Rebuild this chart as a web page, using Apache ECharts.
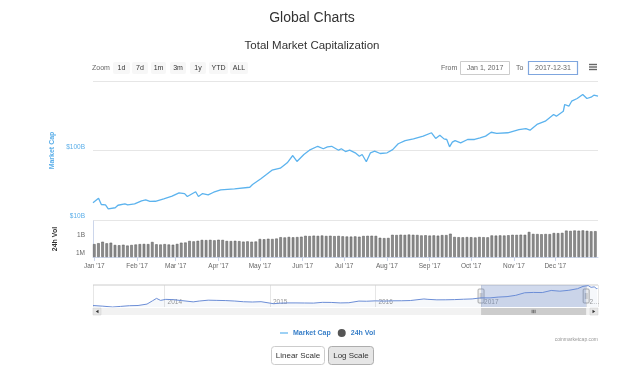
<!DOCTYPE html>
<html>
<head>
<meta charset="utf-8">
<script src="https://cdn.jsdelivr.net/npm/echarts@6/dist/echarts.min.js"></script>
<style>
html, body { margin: 0; padding: 0; background: #fff; }
#main { width: 624px; height: 378px; }
</style>
</head>
<body>
<div id="main"></div>
<script>
// total market cap in 2017, billions USD
var capDates = ['01-01','01-05','01-07','01-10','01-12','01-17','01-19','01-24','01-26','01-31',
  '02-05','02-08','02-11','02-15','02-21','02-27','03-04','03-08','03-10','03-11','03-16','03-18',
  '03-21','03-25','03-29','04-03','04-13','04-24','04-26','05-02','05-06','05-10','05-16','05-21',
  '05-25','05-28','06-02','06-06','06-12','06-16','06-19','06-22','06-27','06-29','07-02','07-05',
  '07-09','07-12','07-14','07-17','07-20','07-23','07-27','08-01','08-05','08-09','08-14','08-20',
  '08-27','09-02','09-05','09-08','09-11','09-13','09-15','09-17','09-19','09-23','09-28','10-03',
  '10-07','10-11','10-15','10-19','10-27','11-04','11-09','11-12','11-17','11-23','11-29','12-01',
  '12-06','12-07','12-10','12-12','12-16','12-20','12-21','12-23','12-26','12-28','12-31'];
var capValues = [17.7,20.6,16.7,16.5,14.5,15.0,16.3,17.1,16.5,17.1,
  18.9,19.5,18.5,18.6,20.2,22.0,24.6,24.0,21.8,23.0,25.5,21.8,
  24.0,23.0,25.1,27.2,28.1,29.6,32.4,39.2,45.1,52.1,55.6,66.5,
  84.7,69.5,87.6,101,115,106,113,115,101,106,96.7,101,
  92.7,82.8,87.6,68.8,92.7,97.7,90.5,92.7,103,125,139,147,
  161,180,149,166,147,144,113,132,139,129,144,144,
  152,161,183,176,180,200,207,196,237,264,330,312,
  367,459,434,512,560,640,640,560,585,625,604];

// 24h volume, billions USD, one bar every 3 days from Jan 1
var volStep = 3;
var volValues = [0.14,0.2,0.35,0.19,0.24,0.1,0.09,0.11,0.08,0.1,0.12,0.14,0.15,0.14,0.32,
  0.13,0.12,0.14,0.12,0.11,0.15,0.24,0.26,0.47,0.4,0.5,0.7,0.65,0.72,0.6,0.75,0.7,
  0.47,0.45,0.5,0.44,0.36,0.4,0.35,0.38,1.0,0.9,1.1,1.0,1.2,2.0,1.8,2.2,1.9,2.1,2.4,
  3.4,3.1,3.6,3.3,3.8,3.2,3.5,3.0,3.3,2.8,2.6,2.5,2.7,2.4,3.2,3.4,3.5,3.3,1.6,1.4,1.5,
  5.0,4.6,5.2,4.8,5.5,5.0,4.7,3.9,4.2,3.7,4.0,3.6,4.5,4.5,7.6,2.2,2.0,1.9,2.1,2.0,1.8,
  2.2,2.0,1.9,3.9,3.7,4.0,3.8,4.2,5.0,4.8,5.2,5.0,15,7,6.7,6.2,6.8,6.5,10,9.5,10.5,
  25,22,26,24,27,23,19,20];

// navigator history, billions USD
var navDates = ['2013-04-28','2013-06-01','2013-07-05','2013-08-01','2013-09-01','2013-10-01',
  '2013-11-01','2013-11-20','2013-12-04','2013-12-18','2014-01-05','2014-02-01','2014-03-01',
  '2014-04-10','2014-05-01','2014-06-01','2014-07-01','2014-08-01','2014-09-01','2014-10-01',
  '2014-11-01','2014-12-01','2015-01-14','2015-02-01','2015-03-01','2015-04-01','2015-05-01',
  '2015-06-01','2015-07-01','2015-08-01','2015-09-01','2015-10-01','2015-11-05','2015-12-01',
  '2016-01-01','2016-02-01','2016-03-01','2016-04-01','2016-05-01','2016-06-17','2016-07-01',
  '2016-08-01','2016-09-01','2016-10-01','2016-11-01','2016-12-01','2017-01-01','2017-02-01',
  '2017-03-01','2017-04-01','2017-05-01','2017-06-01','2017-07-01','2017-08-01','2017-09-01',
  '2017-10-01','2017-11-01','2017-12-01','2017-12-20','2018-01-07','2018-01-17','2018-01-28',
  '2018-02-06','2018-02-08'];
var navValues = [1.6,1.3,1.0,1.2,1.5,1.6,2.5,7,15,8,11,10,7.5,5,6.5,8.5,8,7.5,6.5,5.2,4.8,5.3,
  2.8,3.3,3.6,3.6,3.5,3.4,4.3,4.2,3.6,3.8,6.4,6.1,6.9,6.4,7.0,7.1,7.6,12.5,11.1,9.5,9.6,10.2,
  11.5,12.6,17.7,17.5,22.5,26,39,87,97,93,180,144,190,312,640,830,480,560,300,360];

var monthLabels = ["Jan '17","Feb '17","Mar '17","Apr '17","May '17","Jun '17",
  "Jul '17","Aug '17","Sep '17","Oct '17","Nov '17","Dec '17"];
var capTickValues = [10, 100];
var capTickLabels = ['$10B', '$100B'];
var volTickValues = [0.001, 1];
var volTickLabels = ['1M', '1B'];
var navYears = [2014, 2015, 2016, 2017, 2018];
var navYearLabels = ['2014', '2015', '2016', '2017', '2\u2026'];
var zoomButtons = ['1d', '7d', '1m', '3m', '1y', 'YTD', 'ALL'];

var FONT = '"Liberation Sans", Arial, sans-serif';
var DAY = 86400000;
var VOL_MIN = 0.001;

function day(s) {
  var p = s.split('-');
  return new Date(+p[0], +p[1] - 1, +p[2]).getTime();
}
function logLabel(values, labels) {
  return function (v) {
    for (var i = 0; i < values.length; i++) {
      if (Math.abs(Math.log10(v) - Math.log10(values[i])) < 1e-6) return labels[i];
    }
    return '';
  };
}

var T0 = day('2017-01-01');
var T1 = day('2017-12-31');

var capData = capDates.map(function (d, i) { return [day('2017-' + d), capValues[i]]; });
var volData = volValues.map(function (v, i) { return [new Date(2017, 0, 1 + i * volStep).getTime(), v]; });
// invisible floor so the log-axis bars grow up from the bottom of the pane
var volFloor = volData.map(function (d) { return [d[0], VOL_MIN]; });
var navData = navDates.map(function (d, i) { return [day(d), navValues[i]]; });

var chart = echarts.init(document.getElementById('main'));

chart.setOption({
  animation: false,
  backgroundColor: '#fff',
  title: [
    { text: 'Global Charts', left: 'center', top: 6,
      textStyle: { fontSize: 14, fontWeight: 'normal', color: '#333', fontFamily: FONT } },
    { text: 'Total Market Capitalization', left: 'center', top: 35,
      textStyle: { fontSize: 11.5, fontWeight: 'normal', color: '#333', fontFamily: FONT } }
  ],
  legend: {
    left: 275, top: 324, itemWidth: 8, itemHeight: 6, itemGap: 7, selectedMode: false,
    data: [
      { name: 'Market Cap', icon: 'path://M0,0H20V3H0Z', itemStyle: { color: '#5cb3ee' } },
      { name: '24h Vol', icon: 'circle', itemStyle: { color: '#555' } }
    ],
    textStyle: { color: '#3a80c9', fontWeight: 'bold', fontSize: 7, fontFamily: FONT }
  },
  grid: [
    { left: 93, right: 26, top: 81, height: 139 },
    { left: 93, right: 26, top: 221, height: 36 },
    { left: 93, right: 26, top: 285, height: 22 }
  ],
  xAxis: [
    { type: 'time', gridIndex: 0, min: T0, max: T1, show: false },
    { type: 'time', gridIndex: 1, min: T0, max: T1, minInterval: 28 * DAY, maxInterval: 31 * DAY,
      axisLine: { lineStyle: { color: '#ccd6eb' } },
      axisTick: { show: true, length: 4, lineStyle: { color: '#ccd6eb' } },
      axisLabel: {
        color: '#666', fontSize: 6.5, fontFamily: FONT, margin: 6, hideOverlap: false,
        formatter: function (v) { var d = new Date(v); return d.getDate() === 1 ? monthLabels[d.getMonth()] : ''; }
      },
      splitLine: { show: false } },
    { type: 'time', gridIndex: 2, min: day('2013-04-28'), max: day('2018-02-10'),
      minInterval: 365 * DAY,
      axisLine: { show: false }, axisTick: { show: false },
      axisLabel: {
        inside: true, align: 'left', margin: 1, padding: [0, 0, 0, 3],
        color: '#999', fontSize: 6.5, fontFamily: FONT,
        formatter: function (v) {
          var d = new Date(v);
          var k = navYears.indexOf(d.getFullYear());
          return (d.getMonth() === 0 && d.getDate() === 1 && k >= 0) ? navYearLabels[k] : '';
        }
      },
      splitLine: { show: true, lineStyle: { color: '#e6e6e6' } } }
  ],
  yAxis: [
    { type: 'log', gridIndex: 0, min: 10, max: 1000,
      name: 'Market Cap', nameLocation: 'middle', nameGap: 37, nameRotate: 90,
      nameTextStyle: { color: '#5aaee9', fontWeight: 'bold', fontSize: 7, fontFamily: FONT },
      axisLine: { show: false }, axisTick: { show: false },
      axisLabel: { color: '#5aaee9', fontSize: 6.5, fontFamily: FONT, margin: 8, verticalAlign: 'bottom',
        formatter: logLabel(capTickValues, capTickLabels) },
      splitLine: { lineStyle: { color: '#e6e6e6' } } },
    { type: 'log', gridIndex: 1, min: VOL_MIN, max: 1000,
      name: '24h Vol', nameLocation: 'middle', nameGap: 34, nameRotate: 90,
      nameTextStyle: { color: '#333', fontWeight: 'bold', fontSize: 7, fontFamily: FONT },
      axisLine: { show: true, lineStyle: { color: '#ccd6eb' } }, axisTick: { show: false },
      axisLabel: { color: '#666', fontSize: 6.5, fontFamily: FONT, margin: 8, verticalAlign: 'bottom',
        formatter: logLabel(volTickValues, volTickLabels) },
      splitLine: { show: false } },
    { type: 'log', gridIndex: 2, min: 1, max: 1000, show: false, splitLine: { show: false } }
  ],
  series: [
    { name: 'Market Cap', type: 'line', xAxisIndex: 0, yAxisIndex: 0, data: capData,
      showSymbol: false, symbol: 'none',
      lineStyle: { color: '#5cb3ee', width: 1.3 }, itemStyle: { color: '#5cb3ee' } },
    { name: 'volFloor', type: 'bar', xAxisIndex: 1, yAxisIndex: 1, data: volFloor, barWidth: 2.6,
      stack: 'vol', silent: true, itemStyle: { color: 'rgba(0,0,0,0)' } },
    { name: '24h Vol', type: 'bar', xAxisIndex: 1, yAxisIndex: 1, data: volData, barWidth: 2.6,
      stack: 'vol', itemStyle: { color: '#8d8d8d', borderColor: '#555', borderWidth: 0.5 } },
    { name: 'navigator', type: 'line', xAxisIndex: 2, yAxisIndex: 2, data: navData,
      showSymbol: false, symbol: 'none',
      lineStyle: { color: '#6b8dd6', width: 1 },
      areaStyle: { origin: 'start', color: 'rgba(51,92,173,0.06)' },
      markArea: { silent: true, itemStyle: { color: 'rgba(102,133,194,0.3)' },
        data: [[{ xAxis: T0 }, { xAxis: T1 }]] } }
  ]
});

// range selector, inputs, buttons and navigator furniture
var g = [];
g.push({ type: 'text', x: 92, y: 68, style: { text: 'Zoom', fill: '#666', fontSize: 7, fontFamily: FONT, verticalAlign: 'middle' } });
var bx = [[113, 130], [132, 148], [151, 166], [170, 186], [190, 206], [209, 228], [230, 248]];
zoomButtons.forEach(function (b, i) {
  g.push({ type: 'rect', shape: { x: bx[i][0], y: 62, width: bx[i][1] - bx[i][0], height: 12, r: 2 }, style: { fill: '#f7f7f7' } });
  g.push({ type: 'text', x: (bx[i][0] + bx[i][1]) / 2, y: 68, style: { text: b, fill: '#333', fontSize: 7, fontFamily: FONT, align: 'center', verticalAlign: 'middle' } });
});
g.push({ type: 'text', x: 441, y: 68, style: { text: 'From', fill: '#666', fontSize: 7, fontFamily: FONT, verticalAlign: 'middle' } });
g.push({ type: 'rect', shape: { x: 460.5, y: 61.5, width: 49, height: 13 }, style: { fill: '#fff', stroke: '#ccc', lineWidth: 1 } });
g.push({ type: 'text', x: 485, y: 68, style: { text: 'Jan 1, 2017', fill: '#666', fontSize: 7, fontFamily: FONT, align: 'center', verticalAlign: 'middle' } });
g.push({ type: 'text', x: 516, y: 68, style: { text: 'To', fill: '#666', fontSize: 7, fontFamily: FONT, verticalAlign: 'middle' } });
g.push({ type: 'rect', shape: { x: 528.5, y: 61.5, width: 49, height: 13 }, style: { fill: '#fff', stroke: '#7fa6de', lineWidth: 1.2 } });
g.push({ type: 'text', x: 553, y: 68, style: { text: '2017-12-31', fill: '#666', fontSize: 7, fontFamily: FONT, align: 'center', verticalAlign: 'middle' } });
[64.5, 67, 69.5].forEach(function (y) {
  g.push({ type: 'line', shape: { x1: 589, y1: y, x2: 597, y2: y }, style: { stroke: '#666', lineWidth: 1.4 } });
});

g.push({ type: 'text', x: 598, y: 340, style: { text: 'coinmarketcap.com', fill: '#999', fontSize: 5, fontFamily: FONT, align: 'right', verticalAlign: 'middle' } });
g.push({ type: 'rect', shape: { x: 271.5, y: 346.5, width: 53, height: 18, r: 3 }, style: { fill: '#fff', stroke: '#ccc' } });
g.push({ type: 'text', x: 298, y: 355.5, style: { text: 'Linear Scale', fill: '#333', fontSize: 8, fontFamily: FONT, align: 'center', verticalAlign: 'middle' } });
g.push({ type: 'rect', shape: { x: 328.5, y: 346.5, width: 45, height: 18, r: 3 }, style: { fill: '#e6e6e6', stroke: '#adadad' } });
g.push({ type: 'text', x: 351, y: 355.5, style: { text: 'Log Scale', fill: '#333', fontSize: 8, fontFamily: FONT, align: 'center', verticalAlign: 'middle' } });

// navigator outline, scrollbar and handles placed from the navigator axis
var nx0 = chart.convertToPixel({ xAxisIndex: 2 }, T0);
var nx1 = chart.convertToPixel({ xAxisIndex: 2 }, T1);
g.push({ type: 'line', shape: { x1: 93, y1: 285, x2: 598, y2: 285 }, style: { stroke: '#ccc', lineWidth: 1 } });
g.push({ type: 'rect', shape: { x: 93, y: 308, width: 505, height: 7 }, style: { fill: '#f2f2f2' } });
g.push({ type: 'rect', shape: { x: 93, y: 308, width: 8, height: 7 }, style: { fill: '#e6e6e6', stroke: '#ccc', lineWidth: 0.5 } });
g.push({ type: 'polygon', shape: { points: [[98.5, 309.8], [98.5, 313.2], [95.8, 311.5]] }, style: { fill: '#333' } });
g.push({ type: 'rect', shape: { x: 590, y: 308, width: 8, height: 7 }, style: { fill: '#e6e6e6', stroke: '#ccc', lineWidth: 0.5 } });
g.push({ type: 'polygon', shape: { points: [[592.5, 309.8], [592.5, 313.2], [595.2, 311.5]] }, style: { fill: '#333' } });
g.push({ type: 'rect', shape: { x: nx0, y: 308, width: nx1 - nx0, height: 7 }, style: { fill: '#cccccc' } });
[-1.5, 0, 1.5].forEach(function (d) {
  var cx = (nx0 + nx1) / 2 + d;
  g.push({ type: 'line', shape: { x1: cx, y1: 309.8, x2: cx, y2: 313.2 }, style: { stroke: '#333', lineWidth: 0.6 } });
});
[nx0, nx1].forEach(function (x) {
  g.push({ type: 'rect', shape: { x: x - 3, y: 289, width: 6, height: 14, r: 1 }, style: { fill: '#f2f2f2', stroke: '#999', lineWidth: 0.8 } });
  g.push({ type: 'line', shape: { x1: x - 0.8, y1: 293, x2: x - 0.8, y2: 299 }, style: { stroke: '#999', lineWidth: 0.6 } });
  g.push({ type: 'line', shape: { x1: x + 0.8, y1: 293, x2: x + 0.8, y2: 299 }, style: { stroke: '#999', lineWidth: 0.6 } });
});

chart.setOption({ graphic: g });
</script>
</body>
</html>
